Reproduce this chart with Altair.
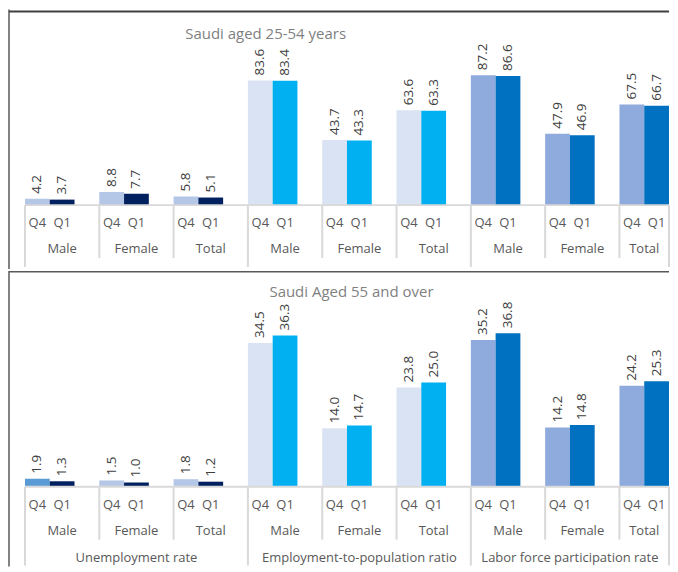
import altair as alt
import pandas as pd

# ---------------- data ----------------
measures = ["Unemployment rate", "Employment-to-population ratio", "Labor force participation rate"]
genders = ["Male", "Female", "Total"]
quarters = ["Q4", "Q1"]
top_title = "Saudi aged 25-54 years"
bottom_title = "Saudi Aged 55 and over"

top_q4 = [4.2, 8.8, 5.8, 83.6, 43.7, 63.6, 87.2, 47.9, 67.5]
top_q1 = [3.7, 7.7, 5.1, 83.4, 43.3, 63.3, 86.6, 46.9, 66.7]
bot_q4 = [1.9, 1.5, 1.8, 34.5, 14.0, 23.8, 35.2, 14.2, 24.2]
bot_q1 = [1.3, 1.0, 1.2, 36.3, 14.7, 25.0, 36.8, 14.8, 25.3]

q4_colors = ["#B4C7E7", "#DAE3F3", "#8FAADC"]
q1_colors = ["#002060", "#00B0F0", "#0070C0"]
bot_male_unemp_q4_color = "#5B9BD5"

# ---------------- layout constants (styling) ----------------
FONT = "Open Sans"
TXT = "#595959"
GRID = "#D9D9D9"
W = 662
H_TOP, H_BOT = 260, 296
SLOTS = 26  # 9 groups x 3 slots; the last empty slot is cropped
xscale = alt.Scale(domain=[0, SLOTS], range=[17, 662], nice=False, zero=False)


def bar_rows(q4, q1, special=None):
    rows = []
    for i, (a, b) in enumerate(zip(q4, q1)):
        m = i // 3
        for q, (v, c) in enumerate([(a, q4_colors[m]), (b, q1_colors[m])]):
            if special and (i, q) in special:
                c = special[(i, q)]
            rows.append(dict(x0=3 * i + q, x1=3 * i + q + 1, xc=3 * i + q + 0.5,
                             value=v, label=f"{v:.1f}", color=c, quarter=quarters[q]))
    return pd.DataFrame(rows)


top_df = bar_rows(top_q4, top_q1)
bot_df = bar_rows(bot_q4, bot_q1, special={(0, 0): bot_male_unemp_q4_color})

gender_df = pd.DataFrame([
    dict(xc=(3 * i + min(3 * i + 3, SLOTS)) / 2, label=genders[i % 3]) for i in range(9)
])
measure_df = pd.DataFrame([
    dict(xc=(9 * m + min(9 * m + 9, SLOTS)) / 2, label=measures[m]) for m in range(3)
])
sep_positions = list(range(0, SLOTS, 3)) + [SLOTS]
major = {0, 9, 18, SLOTS}
sep_df = pd.DataFrame([dict(x=p, major=p in major) for p in sep_positions])
base_df = pd.DataFrame({"a": [0], "b": [SLOTS], "z": [0]})
one = pd.DataFrame({"a": [0]})


def panel(df, yscale, width, height, title, tx, ty, q_y, g_y, minor_end, major_end,
          measure_y=None, top_border=False):
    X = lambda f: alt.X(f, scale=xscale, axis=None)
    bars = alt.Chart(df).mark_bar().encode(
        x=X("x0:Q"),
        x2="x1:Q",
        y=alt.Y("value:Q", scale=yscale, axis=None),
        y2=alt.Y2("zero:Q"),
        color=alt.Color("color:N", scale=None),
    ).transform_calculate(zero="0")
    vals = alt.Chart(df).mark_text(
        angle=270, align="left", baseline="middle", dx=5, font=FONT, fontSize=13.5, color="#404040"
    ).encode(
        x=X("xc:Q"),
        y=alt.Y("value:Q", scale=yscale, axis=None),
        text="label:N",
    )
    base = alt.Chart(base_df).mark_rule(color=GRID, strokeWidth=2).encode(
        x=X("a:Q"), x2="b:Q",
        y=alt.Y("z:Q", scale=yscale, axis=None),
    )
    seps_minor = alt.Chart(sep_df[~sep_df.major]).transform_calculate(z="0").mark_rule(
        color=GRID, strokeWidth=2).encode(
        x=X("x:Q"),
        y=alt.Y("z:Q", scale=yscale, axis=None),
        y2=alt.value(minor_end),
    )
    seps_major = alt.Chart(sep_df[sep_df.major]).transform_calculate(z="0").mark_rule(
        color=GRID, strokeWidth=2).encode(
        x=X("x:Q"),
        y=alt.Y("z:Q", scale=yscale, axis=None),
        y2=alt.value(major_end),
    )
    qlab = alt.Chart(df).mark_text(font=FONT, fontSize=13, color=TXT, baseline="middle").encode(
        x=X("xc:Q"), y=alt.value(q_y), text="quarter:N",
    )
    glab = alt.Chart(gender_df).mark_text(font=FONT, fontSize=13, color=TXT, baseline="middle").encode(
        x=X("xc:Q"), y=alt.value(g_y), text="label:N",
    )
    ttl = alt.Chart(one).mark_text(
        text=title, font=FONT, fontSize=15, color="#7F7F7F", baseline="middle", align="center"
    ).encode(x=alt.value(tx), y=alt.value(ty))
    left = alt.Chart(one).mark_rule(color="#595959", strokeWidth=1.5).encode(
        x=alt.value(1), y=alt.value(0), y2=alt.value(height)
    )
    layers = [bars, base, seps_minor, seps_major, vals, qlab, glab, ttl, left]
    if measure_y is not None:
        layers.append(alt.Chart(measure_df).mark_text(
            font=FONT, fontSize=13, color=TXT, baseline="middle").encode(
            x=X("xc:Q"), y=alt.value(measure_y), text="label:N"))
    if top_border:
        layers.append(alt.Chart(one).mark_rule(color="#404040", strokeWidth=2).encode(
            x=alt.value(1), x2=alt.value(width), y=alt.value(2)))
    else:
        layers.append(alt.Chart(one).mark_rule(color="#595959", strokeWidth=1.5).encode(
            x=alt.value(1), x2=alt.value(width), y=alt.value(0.75)))
    return alt.layer(*layers).properties(width=width, height=height)


top_base, top_k = 196, 1.493
bot_base, bot_k = 216, 4.175
yscale_top = alt.Scale(domain=[0, 100], range=[top_base, top_base - 100 * top_k], nice=False, zero=False)
yscale_bot = alt.Scale(domain=[0, 40], range=[bot_base, bot_base - 40 * bot_k], nice=False, zero=False)

top_panel = panel(top_df, yscale_top, W, H_TOP, top_title, 258, 25,
                  q_y=214, g_y=240, minor_end=249, major_end=258, top_border=True)
bot_panel = panel(bot_df, yscale_bot, W, H_BOT, bottom_title, 344, 21,
                  q_y=234, g_y=260, minor_end=269, major_end=295, measure_y=287)

chart = alt.vconcat(top_panel, bot_panel, spacing=0).properties(
    padding=0, background="white"
).configure_view(stroke=None)

chart.save("out.html", embed_options={"renderer": "svg", "actions": False})
